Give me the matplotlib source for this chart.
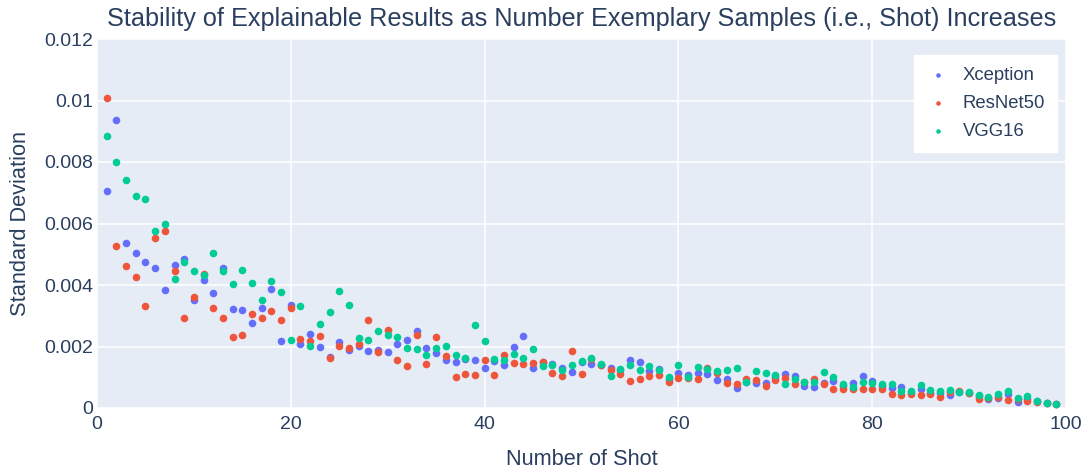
import numpy as np
import matplotlib
matplotlib.use("Agg")
import matplotlib.pyplot as plt
from matplotlib.ticker import FuncFormatter

# Standard deviation per shot count
shots = list(range(1, 100))

xception = [
    0.00706, 0.00937, 0.00538, 0.00505, 0.00474, 0.00454, 0.00383, 0.00466, 0.00484, 0.00352,
    0.00417, 0.00375, 0.00454, 0.00322, 0.00318, 0.00277, 0.00324, 0.00388, 0.00218, 0.00336,
    0.00208, 0.00240, 0.00200, 0.00166, 0.00214, 0.00188, 0.00201, 0.00184, 0.00187, 0.00182,
    0.00208, 0.00220, 0.00250, 0.00195, 0.00178, 0.00156, 0.00151, 0.00158, 0.00155, 0.00129,
    0.00153, 0.00141, 0.00200, 0.00234, 0.00129, 0.00151, 0.00142, 0.00129, 0.00117, 0.00148,
    0.00144, 0.00141, 0.00131, 0.00122, 0.00156, 0.00151, 0.00121, 0.00127, 0.00093, 0.00115,
    0.00107, 0.00113, 0.00112, 0.00090, 0.00093, 0.00065, 0.00085, 0.00080, 0.00080, 0.00100,
    0.00111, 0.00104, 0.00072, 0.00069, 0.00081, 0.00087, 0.00070, 0.00082, 0.00105, 0.00088,
    0.00070, 0.00064, 0.00067, 0.00050, 0.00063, 0.00050, 0.00048, 0.00043, 0.00052, 0.00050,
    0.00038, 0.00030, 0.00032, 0.00045, 0.00020, 0.00028, 0.00022, 0.00016, 0.00012,
]

resnet50 = [
    0.01008, 0.00527, 0.00462, 0.00425, 0.00331, 0.00554, 0.00577, 0.00444, 0.00293, 0.00362,
    0.00437, 0.00326, 0.00294, 0.00232, 0.00236, 0.00305, 0.00292, 0.00314, 0.00287, 0.00324,
    0.00224, 0.00218, 0.00235, 0.00163, 0.00203, 0.00196, 0.00208, 0.00287, 0.00182, 0.00254,
    0.00156, 0.00137, 0.00236, 0.00142, 0.00232, 0.00170, 0.00101, 0.00112, 0.00108, 0.00155,
    0.00108, 0.00172, 0.00147, 0.00144, 0.00147, 0.00148, 0.00113, 0.00104, 0.00185, 0.00112,
    0.00160, 0.00140, 0.00124, 0.00111, 0.00089, 0.00095, 0.00104, 0.00108, 0.00084, 0.00099,
    0.00098, 0.00094, 0.00129, 0.00113, 0.00080, 0.00079, 0.00094, 0.00090, 0.00070, 0.00092,
    0.00098, 0.00079, 0.00084, 0.00095, 0.00077, 0.00063, 0.00063, 0.00061, 0.00062, 0.00062,
    0.00062, 0.00045, 0.00042, 0.00045, 0.00042, 0.00045, 0.00037, 0.00051, 0.00056, 0.00048,
    0.00030, 0.00033, 0.00036, 0.00026, 0.00028, 0.00022, 0.00020, 0.00016, 0.00012,
]

vgg16 = [
    0.00885, 0.00800, 0.00740, 0.00690, 0.00680, 0.00576, 0.00600, 0.00420, 0.00475, 0.00447,
    0.00433, 0.00504, 0.00444, 0.00402, 0.00450, 0.00408, 0.00350, 0.00412, 0.00376, 0.00220,
    0.00333, 0.00202, 0.00274, 0.00312, 0.00380, 0.00334, 0.00227, 0.00220, 0.00250, 0.00236,
    0.00231, 0.00195, 0.00191, 0.00172, 0.00194, 0.00202, 0.00173, 0.00164, 0.00271, 0.00218,
    0.00159, 0.00157, 0.00176, 0.00164, 0.00192, 0.00136, 0.00140, 0.00125, 0.00140, 0.00152,
    0.00162, 0.00142, 0.00104, 0.00126, 0.00141, 0.00124, 0.00136, 0.00122, 0.00100, 0.00140,
    0.00100, 0.00132, 0.00126, 0.00121, 0.00124, 0.00129, 0.00086, 0.00120, 0.00115, 0.00108,
    0.00077, 0.00095, 0.00086, 0.00086, 0.00118, 0.00100, 0.00077, 0.00068, 0.00084, 0.00080,
    0.00078, 0.00078, 0.00056, 0.00055, 0.00074, 0.00058, 0.00056, 0.00059, 0.00051, 0.00052,
    0.00043, 0.00037, 0.00046, 0.00054, 0.00034, 0.00038, 0.00024, 0.00017, 0.00014,
]

series_names = ["Xception", "ResNet50", "VGG16"]
series_colors = ["#636efa", "#EF553B", "#00cc96"]

plt.rcParams['font.family'] = ['Liberation Sans', 'DejaVu Sans']
text_color = "#2a3f5f"

fig = plt.figure(figsize=(10.85, 4.71), dpi=100)
ax = fig.add_axes([97 / 1085, 1 - 408 / 471, (1066 - 97) / 1085, (408 - 39) / 471])
ax.set_facecolor("#E5ECF6")

for name, vals, col in zip(series_names, [xception, resnet50, vgg16], series_colors):
    ax.scatter(shots, vals, s=30, color=col, label=name, linewidths=0, zorder=3)

ax.set_xlim(0, 100)
ax.set_ylim(0, 0.012)
ax.set_xticks(np.arange(0, 101, 20))
ax.set_yticks(np.arange(0, 0.0121, 0.002))
ax.yaxis.set_major_formatter(FuncFormatter(lambda v, p: "0" if abs(v) < 1e-12 else f"{v:.3f}".rstrip("0")))
ax.grid(True, color="white", linewidth=1.1, zorder=0)
ax.set_axisbelow(True)
for sp in ax.spines.values():
    sp.set_visible(False)
ax.tick_params(length=0, labelsize=14, colors=text_color)
ax.tick_params(axis="y", pad=3)
ax.tick_params(axis="x", pad=6)

ax.set_xlabel("Number of Shot", fontsize=15.7, color=text_color, labelpad=11)
ax.set_ylabel("Standard Deviation", fontsize=15.7, color=text_color, labelpad=9)
# title is centred over the plot area, not the whole figure
fig.text(581.5 / 1085, 1 - 19 / 471, "Stability of Explainable Results as Number Exemplary Samples (i.e., Shot) Increases",
         ha="center", va="center", fontsize=18.2, color=text_color)

leg = ax.legend(loc="upper right", bbox_to_anchor=(0.9985, 0.978), frameon=True, fancybox=False,
                fontsize=13.3, handletextpad=0.7, borderpad=0.65, labelspacing=0.6,
                markerscale=0.6, handlelength=1.3, borderaxespad=0.4)
leg.get_frame().set_facecolor("white")
leg.get_frame().set_edgecolor("white")
leg.get_frame().set_alpha(1)
for t in leg.get_texts():
    t.set_color(text_color)

fig.savefig("out.png", dpi=100)
